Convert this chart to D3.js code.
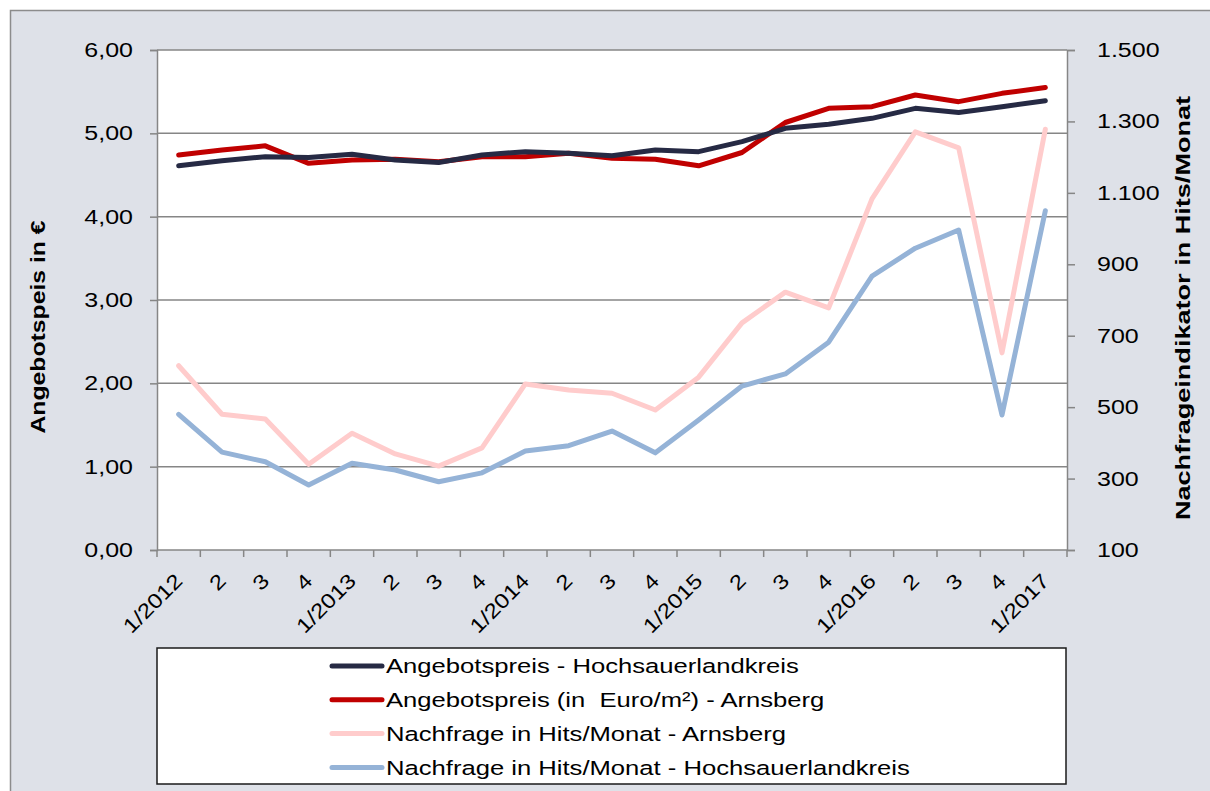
<!DOCTYPE html>
<html>
<head>
<meta charset="utf-8">
<script src="https://cdn.jsdelivr.net/npm/d3@7"></script>
<style>
  body { margin: 0; background: #fff; font-family: "Liberation Sans", Arial, sans-serif; }
  .axis text { font-family: "Liberation Sans", Arial, sans-serif; fill: #000; }
  .legend-text { white-space: pre; }
</style>
</head>
<body>
<div id="chart"></div>
<script>
const categories = ['1/2012', '2', '3', '4', '1/2013', '2', '3', '4', '1/2014', '2', '3', '4',
    '1/2015', '2', '3', '4', '1/2016', '2', '3', '4', '1/2017'];

const preisHSK = [4.61, 4.67, 4.72, 4.71, 4.75, 4.68, 4.65, 4.74, 4.78, 4.76, 4.73, 4.80,
    4.78, 4.90, 5.06, 5.11, 5.18, 5.30, 5.25, 5.32, 5.39];
const preisArnsberg = [4.74, 4.80, 4.85, 4.64, 4.68, 4.69, 4.66, 4.72, 4.72, 4.76, 4.70, 4.69,
    4.61, 4.77, 5.13, 5.30, 5.32, 5.46, 5.38, 5.48, 5.55];
const hitsArnsberg = [616, 480, 467, 340, 427, 369, 335, 386, 565, 548, 539, 492,
    584, 736, 822, 778, 1083, 1271, 1226, 652, 1278];
const hitsHSK = [480, 374, 347, 282, 343, 324, 291, 316, 377, 392, 433, 372,
    464, 559, 593, 682, 867, 945, 996, 478, 1050];

const leftTicks = [0, 1, 2, 3, 4, 5, 6];
const rightTicks = [100, 300, 500, 700, 900, 1100, 1300, 1500];

const series = [
    { name: 'Angebotspreis - Hochsauerlandkreis', values: preisHSK, axis: 'left', color: '#262a44' },
    { name: 'Angebotspreis (in  Euro/m²) - Arnsberg', values: preisArnsberg, axis: 'left', color: '#c00000' },
    { name: 'Nachfrage in Hits/Monat - Arnsberg', values: hitsArnsberg, axis: 'right', color: '#ffcccc' },
    { name: 'Nachfrage in Hits/Monat - Hochsauerlandkreis', values: hitsHSK, axis: 'right', color: '#95b3d7' }
];

const W = 1210, H = 791;
const plot = { left: 157, right: 1067, top: 50, bottom: 550 };
const stretch = 1.22;   // text in the original is rendered wider than Arial

const svg = d3.select('#chart').append('svg')
    .attr('width', W)
    .attr('height', H);

// chart area background
svg.append('rect')
    .attr('x', 10.5).attr('y', 10.5)
    .attr('width', W + 10).attr('height', H + 10)
    .attr('fill', '#dee1e8')
    .attr('stroke', '#8c8c8c')
    .attr('stroke-width', 1.5);

svg.append('rect')
    .attr('x', plot.left).attr('y', plot.top)
    .attr('width', plot.right - plot.left).attr('height', plot.bottom - plot.top)
    .attr('fill', '#fff');

const x = d3.scaleBand()
    .domain(d3.range(categories.length))
    .range([plot.left, plot.right]);

const yLeft = d3.scaleLinear().domain([0, 6]).range([plot.bottom, plot.top]);
const yRight = d3.scaleLinear().domain([100, 1500]).range([plot.bottom, plot.top]);

// gridlines
svg.append('g')
    .selectAll('line')
    .data(leftTicks.slice(1))
    .join('line')
    .attr('x1', plot.left).attr('x2', plot.right)
    .attr('y1', d => yLeft(d)).attr('y2', d => yLeft(d))
    .attr('stroke', '#868686')
    .attr('stroke-width', 1.5);

// left axis
const leftAxis = svg.append('g')
    .attr('class', 'axis')
    .attr('transform', `translate(${plot.left},0)`)
    .call(d3.axisLeft(yLeft).tickValues(leftTicks).tickSize(7)
        .tickFormat(d => d3.format('.2f')(d).replace('.', ',')));
leftAxis.selectAll('.tick text')
    .attr('x', 0)
    .attr('transform', `translate(-24,0) scale(${stretch},1)`);

// right axis
const rightAxis = svg.append('g')
    .attr('class', 'axis')
    .attr('transform', `translate(${plot.right},0)`)
    .call(d3.axisRight(yRight).tickValues(rightTicks).tickSize(8)
        .tickFormat(d => d3.format(',')(d).replace(',', '.')));
rightAxis.selectAll('.tick text')
    .attr('x', 0)
    .attr('transform', `translate(30,0) scale(${stretch},1)`);

[leftAxis, rightAxis].forEach(a => {
    a.select('.domain').attr('stroke', '#868686').attr('stroke-width', 1.5);
    a.selectAll('.tick line').attr('stroke', '#868686').attr('stroke-width', 1.5);
    a.selectAll('.tick text').style('font-size', '20.5px');
});

// bottom axis: ticks at band boundaries
const bottom = svg.append('g').attr('class', 'axis');
bottom.append('line')
    .attr('x1', plot.left).attr('x2', plot.right)
    .attr('y1', plot.bottom).attr('y2', plot.bottom)
    .attr('stroke', '#868686').attr('stroke-width', 1.5);
bottom.selectAll('.tick-b')
    .data(d3.range(categories.length + 1))
    .join('line')
    .attr('class', 'tick-b')
    .attr('x1', d => plot.left + d * x.bandwidth())
    .attr('x2', d => plot.left + d * x.bandwidth())
    .attr('y1', plot.bottom).attr('y2', plot.bottom + 7)
    .attr('stroke', '#868686').attr('stroke-width', 1.5);
bottom.selectAll('.label-b')
    .data(categories)
    .join('text')
    .attr('class', 'label-b')
    .attr('transform', (d, i) => `translate(${x(i) + x.bandwidth() / 2 - 5},${plot.bottom + 22}) rotate(-45) scale(1.18,1)`)
    .attr('text-anchor', 'end')
    .attr('dy', '0.7em')
    .style('font-size', '20.5px')
    .text(d => d);

// lines
const line = yScale => d3.line()
    .x((d, i) => x(i) + x.bandwidth() / 2)
    .y(d => yScale(d));

svg.append('g')
    .selectAll('path')
    .data(series.slice().reverse())
    .join('path')
    .attr('d', s => line(s.axis === 'left' ? yLeft : yRight)(s.values))
    .attr('fill', 'none')
    .attr('stroke', s => s.color)
    .attr('stroke-width', 5)
    .attr('stroke-linejoin', 'round')
    .attr('stroke-linecap', 'round');

// axis titles
svg.append('text')
    .attr('transform', `translate(45,327) rotate(-90) scale(1.27,1)`)
    .attr('text-anchor', 'middle')
    .style('font-size', '19.5px')
    .style('font-weight', 'bold')
    .text('Angebotspeis in €');

svg.append('text')
    .attr('transform', `translate(1190,308) rotate(-90) scale(1.29,1)`)
    .attr('text-anchor', 'middle')
    .style('font-size', '21px')
    .style('font-weight', 'bold')
    .text('Nachfrageindikator in Hits/Monat');

// legend
const legend = svg.append('g');
legend.append('rect')
    .attr('x', 157).attr('y', 648)
    .attr('width', 909).attr('height', 136)
    .attr('fill', '#fff')
    .attr('stroke', '#1a1a1a')
    .attr('stroke-width', 1.5);

const rows = legend.selectAll('.row')
    .data(series)
    .join('g')
    .attr('class', 'row')
    .attr('transform', (d, i) => `translate(0,${666 + i * 33.8})`);
rows.append('line')
    .attr('x1', 332).attr('x2', 382)
    .attr('stroke', d => d.color)
    .attr('stroke-width', 5)
    .attr('stroke-linecap', 'round');
rows.append('text')
    .attr('class', 'legend-text')
    .attr('transform', `translate(386,0) scale(1.25,1)`)
    .attr('dy', '0.35em')
    .style('font-size', '20.5px')
    .text(d => d.name);
</script>
</body>
</html>
